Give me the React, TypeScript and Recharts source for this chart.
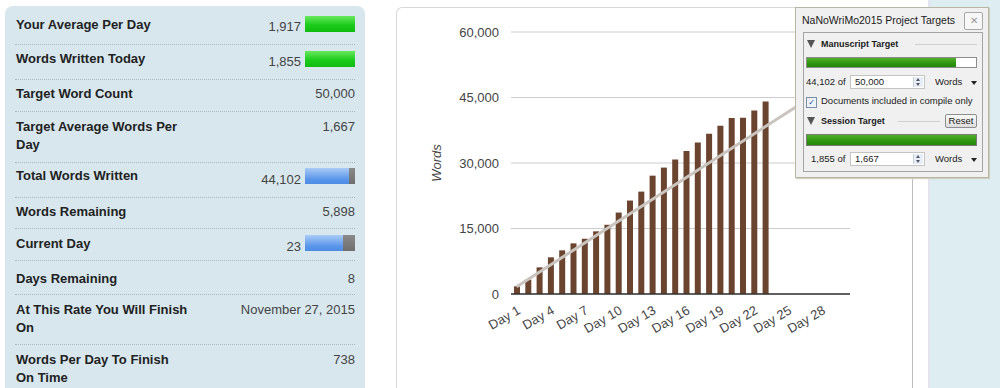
import { ComposedChart, Bar, Line, XAxis, YAxis, CartesianGrid } from 'recharts'

const days = [
  'Day 1', 'Day 2', 'Day 3', 'Day 4', 'Day 5', 'Day 6', 'Day 7', 'Day 8', 'Day 9', 'Day 10',
  'Day 11', 'Day 12', 'Day 13', 'Day 14', 'Day 15', 'Day 16', 'Day 17', 'Day 18', 'Day 19', 'Day 20',
  'Day 21', 'Day 22', 'Day 23', 'Day 24', 'Day 25', 'Day 26', 'Day 27', 'Day 28', 'Day 29', 'Day 30',
]

// cumulative words at the end of each day
const wordsWritten = [
  1750, 3300, 6100, 8400, 10000, 11600, 12650, 14350, 15850, 18650,
  21400, 23450, 27100, 28950, 30800, 32750, 34700, 36700, 38550, 40300,
  40350, 42000, 44102,
]

// straight target line: 1,667 on day 1 up to 50,000 on day 30
const targetPoints = [
  { day: 'Day 1', value: 1667 },
  { day: 'Day 30', value: 50000 },
]

const yTicks = [0, 15000, 30000, 45000, 60000]

const statLabels = [
  ['Your Average Per Day'],
  ['Words Written Today'],
  ['Target Word Count'],
  ['Target Average Words Per', 'Day'],
  ['Total Words Written'],
  ['Words Remaining'],
  ['Current Day'],
  ['Days Remaining'],
  ['At This Rate You Will Finish', 'On'],
  ['Words Per Day To Finish', 'On Time'],
]
const statValues = ['1,917', '1,855', '50,000', '1,667', '44,102', '5,898', '23', '8', 'November 27, 2015', '738']

const FONT = '"Liberation Sans", Arial, sans-serif'
const POP_FONT = '"Liberation Sans", Arial, sans-serif'

const data = days.map((day, i) => ({
  day,
  words: wordsWritten[i] ?? null,
  target: targetPoints.find(t => t.day === day)?.value ?? null,
}))

const rowTop = [25, 59, 94, 127, 176, 211.5, 243.5, 278.5, 310, 360]
const valueTop = [27, 62, 94, 127, 180, 211.5, 247, 278.5, 310, 360]
const separators = [44, 79, 111, 162, 197, 227.5, 260, 294, 344]

function WordsLabel(props: any) {
  const vb = props.viewBox || {}
  const x = (vb.x ?? 55) - 15
  const y = (vb.y ?? 25) + (vb.height ?? 262) / 2
  return (
    <text x={x} y={y} transform={`rotate(-90 ${x} ${y})`} textAnchor="middle" dominantBaseline="central"
      fill="#444" fontSize={13} fontStyle="italic">
      Words
    </text>
  )
}

function StatBar({ top, kind, frac }: { top: number; kind: 'green' | 'blue'; frac: number }) {
  if (kind === 'green') {
    return <div style={{ position: 'absolute', left: 305, top, width: 50, height: 16, background: 'linear-gradient(#6ae85e, #1ccc1c 55%, #0fbb0f)' }} />
  }
  const w = Math.round(50 * frac)
  return (
    <>
      <div style={{ position: 'absolute', left: 305, top, width: w, height: 16, background: 'linear-gradient(#a9cbf6, #5a96ea 70%, #4d8ce4)' }} />
      <div style={{ position: 'absolute', left: 305 + w, top, width: 50 - w, height: 16, background: 'linear-gradient(#8a8a8a, #6e6e6e)' }} />
    </>
  )
}

function Spinner() {
  return (
    <div style={{ position: 'absolute', right: 1, top: 1, width: 9, height: 10, background: '#e8eef6', borderLeft: '1px solid #c8d0dc' }}>
      <div style={{ position: 'absolute', left: 2, top: 1, width: 0, height: 0, borderLeft: '2.5px solid transparent', borderRight: '2.5px solid transparent', borderBottom: '3px solid #556' }} />
      <div style={{ position: 'absolute', left: 2, top: 6, width: 0, height: 0, borderLeft: '2.5px solid transparent', borderRight: '2.5px solid transparent', borderTop: '3px solid #556' }} />
    </div>
  )
}

function TargetsPopup() {
  const abs = (left: number, top: number, extra: any = {}) => ({ position: 'absolute' as const, left, top, ...extra })
  const tri = (left: number, top: number) => (
    <div style={abs(left, top, { width: 0, height: 0, borderLeft: '4.5px solid transparent', borderRight: '4.5px solid transparent', borderTop: '8px solid #555' })} />
  )
  const caret = (left: number, top: number) => (
    <div style={abs(left, top, { width: 0, height: 0, borderLeft: '3.5px solid transparent', borderRight: '3.5px solid transparent', borderTop: '4px solid #222' })} />
  )
  const fill = (44102 / 50000) * 169
  return (
    <div style={{ position: 'absolute', left: 795, top: 7, width: 192, height: 169, background: '#f0f0f0', border: '1px solid #b6b6a2', boxShadow: '1px 1px 1px #d0d0c0', fontFamily: POP_FONT, fontSize: 9.5, color: '#1a1a1a', whiteSpace: 'nowrap' }}>
      <div style={abs(6, 6, { fontSize: 10.5, lineHeight: '13px' })}>NaNoWriMo2015 Project Targets</div>
      <div style={abs(168, 4, { width: 17, height: 16, border: '1px solid #a8a8a8', borderRadius: 2, background: '#f7f7f7', color: '#999', fontSize: 10, lineHeight: '16px', textAlign: 'center' })}>✕</div>
      <div style={abs(7, 24, { width: 178, height: 138, border: '1px solid #a4a4a4' })} />

      {tri(11, 32)}
      <div style={abs(25, 30, { fontWeight: 'bold', fontSize: 9, lineHeight: '12px' })}>Manuscript Target</div>
      <div style={abs(119, 36, { width: 62, height: 1, background: '#cfcfcf' })} />
      <div style={abs(10, 49, { width: 169, height: 9, border: '1px solid #8c8c8c', background: '#fff' })}>
        <div style={{ width: fill, height: 9, background: 'linear-gradient(#52b02a, #2f9410 60%, #238808)' }} />
      </div>
      <div style={abs(10, 68, { lineHeight: '12px' })}>44,102 of</div>
      <div style={abs(54, 67, { width: 73, height: 12, border: '1px solid #c4c4c4', background: '#fff' })}>
        <div style={{ position: 'absolute', left: 4, top: 0, lineHeight: '12px' }}>50,000</div>
        <Spinner />
      </div>
      <div style={abs(139, 68, { lineHeight: '12px' })}>Words</div>
      {caret(175, 73)}
      <div style={abs(10, 89, { width: 9, height: 9, border: '1px solid #7b8ea8', background: '#eef2f8', color: '#2450a0', fontSize: 8, lineHeight: '9px', textAlign: 'center', fontFamily: '"DejaVu Sans", sans-serif' })}>✓</div>
      <div style={abs(25, 87, { lineHeight: '12px' })}>Documents included in compile only</div>

      {tri(11, 109)}
      <div style={abs(25, 107, { fontWeight: 'bold', fontSize: 9, lineHeight: '12px' })}>Session Target</div>
      <div style={abs(102, 113, { width: 42, height: 1, background: '#cfcfcf' })} />
      <div style={abs(149, 106, { width: 30, height: 12, border: '1px solid #8e8e8e', borderRadius: 2, background: 'linear-gradient(#fafafa, #dcdcdc)', lineHeight: '12px', textAlign: 'center' })}>Reset</div>
      <div style={abs(10, 126, { width: 169, height: 10, border: '1px solid #7a7a7a', background: 'linear-gradient(#52b02a, #2f9410 60%, #238808)' })} />
      <div style={abs(15, 145, { lineHeight: '12px' })}>1,855 of</div>
      <div style={abs(54, 144, { width: 73, height: 12, border: '1px solid #c4c4c4', background: '#fff' })}>
        <div style={{ position: 'absolute', left: 4, top: 0, lineHeight: '12px' }}>1,667</div>
        <Spinner />
      </div>
      <div style={abs(139, 145, { lineHeight: '12px' })}>Words</div>
      {caret(175, 150)}
    </div>
  )
}

export default function App() {
  return (
    <div style={{ position: 'absolute', left: 0, top: 0, width: 1000, height: 388, overflow: 'hidden', background: '#fff', fontFamily: FONT }}>
      {/* stats panel */}
      <div style={{ position: 'absolute', left: 5, top: 6, width: 360, height: 400, background: '#d8e7ee', borderRadius: 8 }} />
      {separators.map(y => (
        <div key={y} style={{ position: 'absolute', left: 15, top: y, width: 340, height: 0, borderTop: '1px dotted #a9b7be' }} />
      ))}
      {statLabels.map((lines, i) => (
        lines.map((line, k) => (
          <div key={`${i}-${k}`} style={{ position: 'absolute', left: 16, top: rowTop[i] - 8 + k * 17.5, fontSize: 13, lineHeight: '16px', fontWeight: 'bold', color: '#222', whiteSpace: 'nowrap' }}>
            {line}
          </div>
        ))
      ))}
      {statValues.map((v, i) => {
        const hasBar = i === 0 || i === 1 || i === 4 || i === 6
        return (
          <div key={v + i} style={{ position: 'absolute', right: hasBar ? 699 : 645, top: valueTop[i] - 8, fontSize: 13, lineHeight: '16px', color: '#444', whiteSpace: 'nowrap' }}>
            {v}
          </div>
        )
      })}
      <StatBar top={16} kind="green" frac={1} />
      <StatBar top={51} kind="green" frac={1} />
      <StatBar top={168} kind="blue" frac={44102 / 50000} />
      <StatBar top={235} kind="blue" frac={23 / 30} />

      {/* right page strip */}
      <div style={{ position: 'absolute', left: 928, top: 0, width: 72, height: 388, background: '#deedf2', borderLeft: '2px solid #e4e4f0' }} />

      {/* chart frame */}
      <div style={{ position: 'absolute', left: 396, top: 7, width: 517, height: 400, boxSizing: 'border-box', border: '1px solid #d8d8d8', borderRight: '1px solid #bdbdbd', borderTopLeftRadius: 6, background: '#fff' }} />
      <div style={{ position: 'absolute', left: 396, top: 7 }}>
        <ComposedChart width={516} height={381} data={data} margin={{ top: 25, right: 62, left: 55, bottom: 54 }}>
          <CartesianGrid vertical={false} stroke="#cccccc" />
          <XAxis
            dataKey="day"
            interval={2}
            tickLine={false}
            axisLine={{ stroke: '#333', strokeWidth: 1.5 }}
            tick={{ fill: '#444', fontSize: 13, angle: -30, textAnchor: 'end' }}
            tickMargin={5}
            height={40}
          />
          <YAxis
            domain={[0, 60000]}
            ticks={yTicks}
            tickFormatter={(v: number) => v.toLocaleString('en-US')}
            axisLine={false}
            tickLine={false}
            width={60}
            tickMargin={6}
            tick={{ fill: '#444', fontSize: 13 }}
            label={WordsLabel}
          />
          <Bar dataKey="words" fill="#6b4430" barSize={6} isAnimationActive={false} />
          <Line dataKey="target" type="linear" connectNulls dot={false} stroke="#cac4be" strokeWidth={3} isAnimationActive={false} />
        </ComposedChart>
      </div>

      <TargetsPopup />
    </div>
  )
}
